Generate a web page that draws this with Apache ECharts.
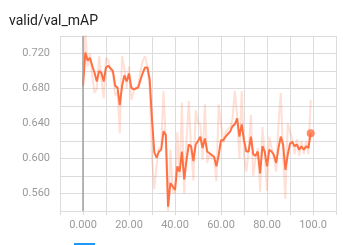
<!DOCTYPE html>
<html><head><meta charset="utf-8">
<script src="https://cdn.jsdelivr.net/npm/echarts@6/dist/echarts.min.js"></script>
<style>html,body{margin:0;padding:0;background:#fff}#c{width:343px;height:245px}</style>
</head><body><div id="c"></div>
<script>
const title = "valid/val_mAP";
const steps = Array.from({length:100},(_, i)=>i);
const smoothed = [
0.683,0.721,0.712,0.715,0.706,0.698,0.688,0.700,0.698,0.688,
0.704,0.706,0.703,0.700,0.683,0.681,0.661,0.683,0.695,0.688,
0.697,0.681,0.679,0.680,0.681,0.690,0.698,0.704,0.704,0.690,
0.645,0.607,0.601,0.608,0.610,0.631,0.627,0.545,0.572,0.568,
0.564,0.591,0.585,0.608,0.576,0.598,0.616,0.614,0.597,0.616,
0.620,0.625,0.612,0.623,0.608,0.606,0.604,0.602,0.591,0.604,
0.621,0.621,0.625,0.628,0.631,0.637,0.639,0.646,0.625,0.639,
0.621,0.608,0.608,0.625,0.605,0.603,0.608,0.583,0.614,0.608,
0.591,0.610,0.608,0.604,0.595,0.612,0.625,0.616,0.587,0.604,
0.617,0.619,0.614,0.616,0.610,0.614,0.610,0.614,0.612,0.629];
const raw = [
0.683,0.745,0.705,0.720,0.695,0.675,0.680,0.717,0.690,0.669,
0.715,0.712,0.700,0.698,0.672,0.676,0.629,0.717,0.703,0.680,
0.705,0.667,0.676,0.681,0.683,0.700,0.712,0.717,0.705,0.680,
0.600,0.565,0.592,0.612,0.612,0.677,0.620,0.540,0.610,0.562,
0.560,0.630,0.578,0.664,0.560,0.620,0.666,0.610,0.575,0.655,
0.640,0.640,0.598,0.662,0.595,0.605,0.600,0.600,0.574,0.662,
0.640,0.618,0.630,0.634,0.636,0.645,0.677,0.650,0.600,0.677,
0.605,0.585,0.608,0.650,0.580,0.600,0.612,0.562,0.636,0.605,
0.563,0.625,0.612,0.600,0.585,0.640,0.675,0.600,0.554,0.640,
0.630,0.622,0.605,0.622,0.603,0.620,0.605,0.620,0.605,0.667];

const chart = echarts.init(document.getElementById('c'), null, {renderer:'canvas'});
const gridColor = '#dcdcdc';
const labelColor = '#9a9a9a';
const last = smoothed.length - 1;
chart.setOption({
  animation:false,
  title:{text:title,left:4,top:9,textStyle:{fontFamily:'Roboto',fontSize:14,fontWeight:'normal',color:'#212121'}},
  grid:{left:60,right:7,top:36,bottom:34},
  xAxis:{type:'value',min:-10,max:110,interval:10,
    axisLine:{show:true,lineStyle:{color:gridColor}},
    axisTick:{show:true,length:4,lineStyle:{color:gridColor}},
    splitLine:{show:true,lineStyle:{color:gridColor}},
    axisLabel:{color:labelColor,fontFamily:'Roboto',fontSize:11,margin:9,
      formatter:v=>(v>=0 && v<=100 && Math.round(v)%20===0)?Number(v).toPrecision(4):''}},
  yAxis:{type:'value',min:0.54,max:0.74,interval:0.02,
    axisLine:{show:true,lineStyle:{color:gridColor}},
    axisTick:{show:true,length:3,lineStyle:{color:gridColor}},
    splitLine:{show:true,lineStyle:{color:gridColor}},
    axisLabel:{color:labelColor,fontFamily:'Roboto',fontSize:11,margin:10,
      formatter:v=>(Math.round(v*100)%4===0)?v.toFixed(3):''}},
  series:[
    {type:'line',data:steps.map((s,i)=>[s,raw[i]]),showSymbol:false,
     lineStyle:{color:'rgba(255,112,67,0.22)',width:2},itemStyle:{color:'rgba(255,112,67,0.22)'},
     z:2,
     markLine:{silent:true,symbol:'none',label:{show:false},
       lineStyle:{color:'#a0a0a0',width:1.5,type:'solid'},data:[{xAxis:0}]}},
    {type:'line',data:steps.map((s,i)=>[s,smoothed[i]]),showSymbol:false,
     lineStyle:{color:'#ff7043',width:2},itemStyle:{color:'#ff7043'},z:3},
    {type:'scatter',data:[[steps[last],smoothed[last]]],symbolSize:8,
     itemStyle:{color:'#ff7043'},z:4}
  ],
  graphic:[{type:'rect',shape:{x:74,y:243,width:21,height:2},style:{fill:'#2196f3'}}]
});
</script></body></html>
